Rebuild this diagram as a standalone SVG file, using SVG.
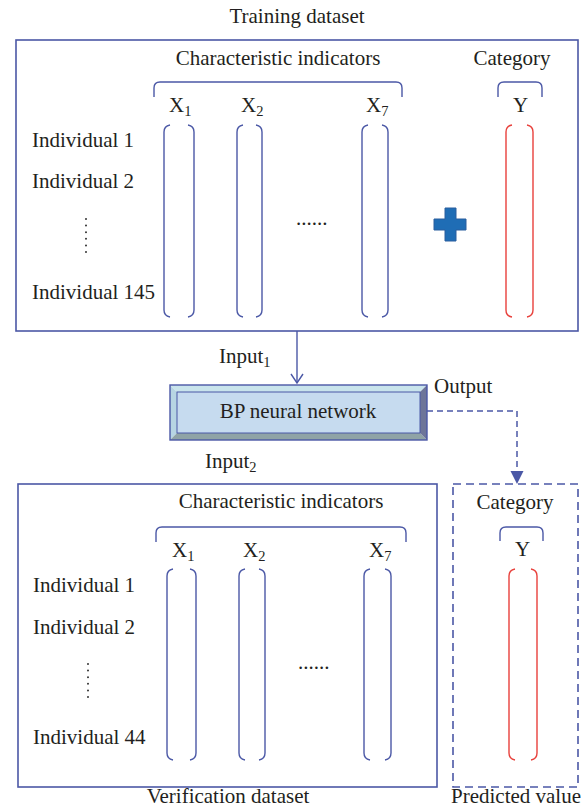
<svg xmlns="http://www.w3.org/2000/svg" width="585" height="808" viewBox="0 0 585 808">
<style>
text{font-family:"Liberation Serif","Times New Roman",serif;font-size:21px;fill:#231f20}
.c{text-anchor:middle}
.sub{font-size:14.5px}
.box{fill:none;stroke:#4b58a6;stroke-width:1.6}
.col{fill:none;stroke:#4b58a6;stroke-width:1.4}
.red{fill:none;stroke:#e8413c;stroke-width:1.4}
.dots{stroke:#333;stroke-width:2;stroke-linecap:round;stroke-dasharray:0 6.6}
.dash{fill:none;stroke:#4b58a6;stroke-width:1.6;stroke-dasharray:8 5}
</style>
<rect width="585" height="808" fill="#fff"/>

<g id="training">
<text class="c" x="297" y="23">Training dataset</text>
<rect class="box" x="16" y="40" width="562" height="291"/>
<text class="c" x="278" y="65">Characteristic indicators</text>
<text class="c" x="512" y="65">Category</text>
<path class="col" d="M154,97 L154,88 Q154,82 160,82 L396,82 Q402,82 402,88 L402,97"/>
<path class="col" d="M498,97 L498,88 Q498,82 504,82 L536,82 Q542,82 542,88 L542,97"/>
<text x="169" y="112">X<tspan class="sub" dy="4">1</tspan></text>
<text x="241" y="112">X<tspan class="sub" dy="4">2</tspan></text>
<text x="366" y="112">X<tspan class="sub" dy="4">7</tspan></text>
<text x="513" y="112">Y</text>
<text x="32" y="147">Individual 1</text>
<text x="32" y="188">Individual 2</text>
<line class="dots" x1="86" y1="219" x2="86" y2="252"/>
<text x="32" y="299">Individual 145</text>
<text x="296" y="225">......</text>
<path class="col" d="M170,125 Q164,126 164,132 L164,310 Q164,316 170,317"/>
<path class="col" d="M188,125 Q194,126 194,132 L194,310 Q194,316 188,317"/>
<path class="col" d="M243,125 Q237,126 237,132 L237,310 Q237,316 243,317"/>
<path class="col" d="M256,125 Q262,126 262,132 L262,310 Q262,316 256,317"/>
<path class="col" d="M368,125 Q362,126 362,132 L362,310 Q362,316 368,317"/>
<path class="col" d="M382,125 Q388,126 388,132 L388,310 Q388,316 382,317"/>
<path class="red" d="M512,125 Q506,126 506,132 L506,310 Q506,316 512,317"/>
<path class="red" d="M527,125 Q533,126 533,132 L533,310 Q533,316 527,317"/>
<path d="M445,208 H456 V219 H466 V230 H456 V241 H445 V230 H434 V219 H445 Z" fill="#1f6db5" stroke="#2b5f9e" stroke-width="1"/>
</g>

<g id="bp">
<polygon points="170,385 427,385 420,392 177,392" fill="#c9e4ec"/>
<polygon points="170,385 177,392 177,433 170,440" fill="#b7d5e3"/>
<polygon points="170,440 177,433 420,433 427,440" fill="#8fa3a6"/>
<polygon points="427,385 427,440 420,433 420,392" fill="#6d7599"/>
<rect x="177" y="392" width="243" height="41" fill="#c6dbef"/>
<rect x="170" y="385" width="257" height="55" fill="none" stroke="#4b58a6" stroke-width="1.4"/>
<rect x="177" y="392" width="243" height="41" fill="none" stroke="#4b58a6" stroke-width="1"/>
<text class="c" x="298" y="418">BP neural network</text>
</g>

<g id="connectors">
<line x1="297" y1="331" x2="297" y2="383" stroke="#4b58a6" stroke-width="1.4"/>
<polyline points="291,374 297,383 303,374" fill="none" stroke="#4b58a6" stroke-width="1.4"/>
<path d="M427,411 H517 V472" fill="none" stroke="#4b58a6" stroke-width="1.5" stroke-dasharray="6 4"/>
<polygon points="510.5,471 523.5,471 517,484" fill="#4b58a6"/>
</g>
<g id="labels">
<text x="219" y="363">Input<tspan class="sub" dy="4">1</tspan></text>
<text x="434" y="393">Output</text>
<text x="205" y="468">Input<tspan class="sub" dy="4">2</tspan></text>
</g>

<g id="verification">
<rect class="box" x="18" y="484" width="419" height="303"/>
<text class="c" x="281" y="508">Characteristic indicators</text>
<path class="col" d="M156,542 L156,533 Q156,527 162,527 L400,527 Q406,527 406,533 L406,542"/>
<text x="172" y="557">X<tspan class="sub" dy="4">1</tspan></text>
<text x="243" y="557">X<tspan class="sub" dy="4">2</tspan></text>
<text x="369" y="557">X<tspan class="sub" dy="4">7</tspan></text>
<text x="33" y="592">Individual 1</text>
<text x="33" y="634">Individual 2</text>
<line class="dots" x1="88" y1="664" x2="88" y2="697"/>
<text x="33" y="744">Individual 44</text>
<text x="298" y="669">......</text>
<path class="col" d="M173,569 Q167,570 167,576 L167,753 Q167,759 173,760"/>
<path class="col" d="M190,569 Q196,570 196,576 L196,753 Q196,759 190,760"/>
<path class="col" d="M245,569 Q239,570 239,576 L239,753 Q239,759 245,760"/>
<path class="col" d="M259,569 Q265,570 265,576 L265,753 Q265,759 259,760"/>
<path class="col" d="M370,569 Q364,570 364,576 L364,753 Q364,759 370,760"/>
<path class="col" d="M385,569 Q391,570 391,576 L391,753 Q391,759 385,760"/>
<text class="c" x="228" y="803">Verification dataset</text>
</g>

<g id="predicted">
<rect class="dash" x="453" y="484" width="125" height="303"/>
<text class="c" x="515" y="509">Category</text>
<path class="col" d="M500,541 L500,533 Q500,527 506,527 L537,527 Q543,527 543,533 L543,541"/>
<text x="515" y="556">Y</text>
<path class="red" d="M515,569 Q509,570 509,576 L509,753 Q509,759 515,760"/>
<path class="red" d="M531,569 Q537,570 537,576 L537,753 Q537,759 531,760"/>
<text class="c" x="516" y="803">Predicted value</text>
</g>
</svg>
